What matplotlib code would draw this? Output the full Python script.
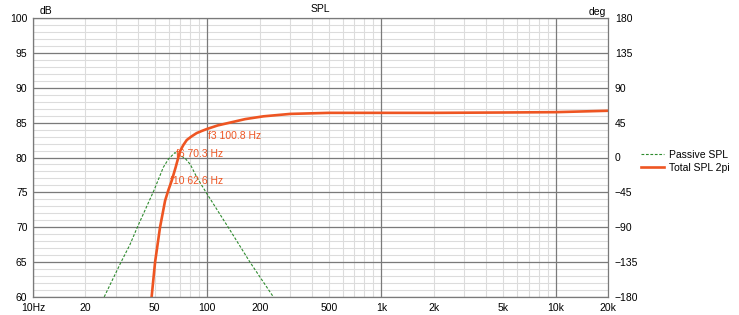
import numpy as np
import matplotlib.pyplot as plt
from matplotlib.ticker import FixedLocator, FuncFormatter, NullFormatter

plt.rcParams['font.family'] = ['Liberation Sans', 'DejaVu Sans']
plt.rcParams['font.size'] = 7.5

# passive radiator SPL (green dashed)
passive_f = [20, 25.6, 32, 36, 39.7, 49.5, 56, 60, 65.3, 74.6, 80, 87, 98.5, 132, 176, 240, 300]
passive_db = [55.5, 60, 65, 67.5, 70, 75.3, 78.6, 79.8, 80.7, 79.9, 79.0, 77.2, 75.0, 70, 65, 60, 57.3]

# total SPL 2pi (orange)
total_f = [46, 48, 50.2, 53.6, 57.3, 59.8, 62.6, 65.9, 69.8, 73, 76.3, 81, 87, 93, 100,
           115, 135, 165, 210, 300, 500, 1000, 2000, 5000, 10000, 20000]
total_db = [57, 60.1, 65, 70, 73.8, 75.3, 76.7, 78.6, 80.9, 81.8, 82.5, 83.0, 83.5, 83.8, 84.1,
            84.6, 85.0, 85.5, 85.9, 86.25, 86.4, 86.4, 86.4, 86.45, 86.5, 86.7]

# corner frequency labels: (x, y, text)
marks = [(101, 83.1, 'f3 100.8 Hz'), (66.5, 80.5, 'f6 70.3 Hz'), (61.5, 76.6, 'f10 62.6 Hz')]

x_labels = {10: '10Hz', 20: '20', 50: '50', 100: '100', 200: '200', 500: '500',
            1000: '1k', 2000: '2k', 5000: '5k', 10000: '10k', 20000: '20k'}

orange = '#EE5522'
green = '#2E8B2E'
major_c = '#7A7A7A'
minor_c = '#DCDCDC'

dec = [10, 100, 1000, 10000]
minors = [m * d for d in dec for m in range(2, 10) if m * d <= 20000]
pos = [0.0447, 0.0571, 0.778, 0.8858]

fig = plt.figure(figsize=(7.39, 3.15), dpi=100)

# background axes holds only the light minor grid, so it never cuts the major lines
bg = fig.add_axes(pos)
bg.set_xscale('log')
bg.set_xlim(10, 20000)
bg.set_ylim(60, 100)
bg.xaxis.set_major_locator(FixedLocator(minors))
bg.yaxis.set_major_locator(FixedLocator(np.arange(61, 100, 1)))
bg.xaxis.set_minor_locator(FixedLocator([]))
bg.grid(color=minor_c, lw=0.8)
bg.tick_params(length=0, labelbottom=False, labelleft=False)
for s in bg.spines.values():
    s.set_visible(False)

ax = fig.add_axes(pos)
ax.patch.set_alpha(0)
ax.set_xscale('log')
ax.set_xlim(10, 20000)
ax.set_ylim(60, 100)

ax.xaxis.set_major_locator(FixedLocator(dec))
ax.xaxis.set_minor_locator(FixedLocator(minors))
ax.xaxis.set_major_formatter(FuncFormatter(lambda v, p: x_labels.get(int(round(v)), '')))
ax.xaxis.set_minor_formatter(FuncFormatter(lambda v, p: x_labels.get(int(round(v)), '')))
ax.yaxis.set_major_locator(FixedLocator(np.arange(60, 101, 5)))
ax.yaxis.set_minor_formatter(NullFormatter())

ax.grid(which='major', color=major_c, lw=0.9)
ax.set_axisbelow(True)
ax.tick_params(which='both', length=0, pad=4, labelsize=7.5)
ax.tick_params(axis='y', pad=4)
for s in ax.spines.values():
    s.set_color(major_c)
    s.set_linewidth(0.9)

l1, = ax.plot(passive_f, passive_db, color=green, lw=0.8, ls=(0, (2.5, 1.5)), label='Passive SPL')
l2, = ax.plot(total_f, total_db, color=orange, lw=1.9, label='Total SPL 2pi')

for fx, fy, t in marks:
    ax.text(fx, fy, t, color=orange, fontsize=7.5, ha='left', va='center')

ax2 = ax.twinx()
ax2.set_ylim(-180, 180)
ax2.set_yticks(np.arange(-180, 181, 45))
ax2.tick_params(length=0, pad=5, labelsize=7.5)
for s in ax2.spines.values():
    s.set_visible(False)

ax.set_title('SPL', fontsize=7.5, pad=4)
fig.text(0.054, 0.965, 'dB', fontsize=7.5, ha='left', va='center')
fig.text(0.808, 0.962, 'deg', fontsize=7.5, ha='center', va='center')

fig.legend([l1, l2], ['Passive SPL', 'Total SPL 2pi'], loc='upper left',
           bbox_to_anchor=(0.855, 0.555), frameon=False, fontsize=7.5,
           handlelength=2.2, handletextpad=0.5, labelspacing=0.3)

fig.savefig('out.png', dpi=100)
